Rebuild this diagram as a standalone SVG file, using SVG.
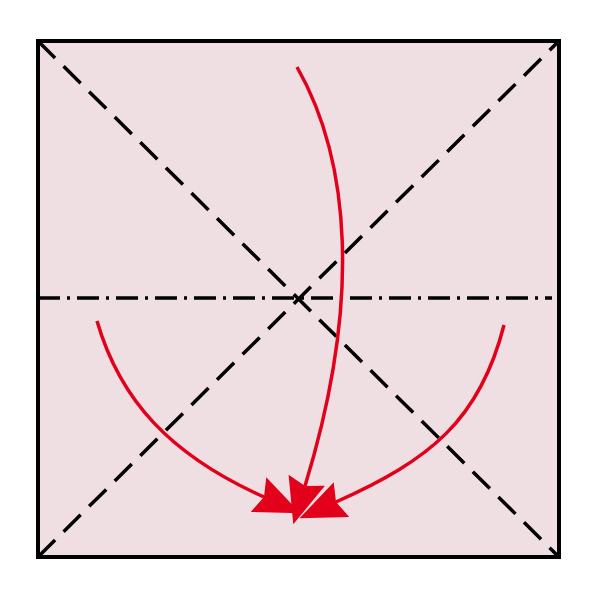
<svg xmlns="http://www.w3.org/2000/svg" width="600" height="600" viewBox="0 0 600 600">
<style>
.crease{stroke:#000;stroke-width:3.5;fill:none;stroke-dasharray:24 12}
.axis{stroke:#000;stroke-width:3.5;fill:none;stroke-dasharray:22 7 3 7}
.arrow{stroke:#e2001a;stroke-width:3.5;fill:none;marker-end:url(#head)}
</style>
<defs>
<marker id="head" markerUnits="userSpaceOnUse" markerWidth="60" markerHeight="60" refX="6" refY="0" viewBox="-5 -25 60 50" orient="auto" overflow="visible">
<path d="M46,0 L0,-19 L6,0 L0,19 Z" fill="#e2001a"/>
</marker>
</defs>
<rect width="600" height="600" fill="#fff"/>
<g id="paper">
<rect x="38" y="41" width="521" height="516" fill="#efdfe2" stroke="#000" stroke-width="4"/>
</g>
<g id="creases">
<line class="crease" x1="38" y1="41" x2="559" y2="557"/>
<line class="crease" x1="38" y1="557" x2="559" y2="41"/>
<line class="axis" x1="38" y1="298" x2="552" y2="298"/>
</g>
<g id="connectors">
<path class="arrow" d="M97,321 C120,400 170,455 264,497"/>
<path class="arrow" d="M297,67 C350,160 362,300 305,486"/>
<path class="arrow" d="M504,325 C480,420 430,460 336,502"/>
</g>
</svg>
